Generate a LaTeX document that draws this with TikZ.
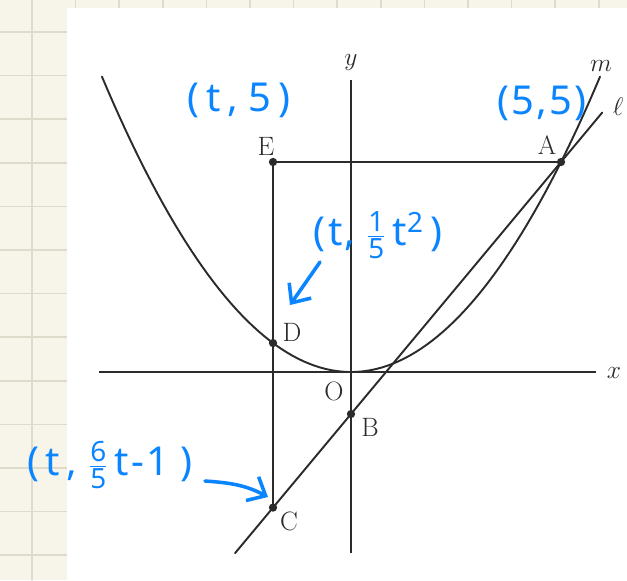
\documentclass[tikz,border=0pt]{standalone}
\usepackage{amsmath}
\usepackage{fontspec}
\newfontfamily\handfont[LetterSpace=6]{Noto Sans}
\usetikzlibrary{arrows.meta, calc}
\definecolor{paper}{HTML}{F7F4E9}
\definecolor{gridline}{HTML}{DFDBCC}
\definecolor{penblue}{HTML}{0A84FF}
\definecolor{inkgray}{HTML}{2B2B2B}
\tikzset{
  ink/.style={line width=1.3pt, draw=inkgray},
  pt/.style={circle, fill=inkgray, inner sep=0pt, minimum size=5.6pt},
  lbl/.style={font=\fontsize{18}{20}\selectfont, text=inkgray, inner sep=0pt},
  pen/.style={text=penblue, font=\handfont\fontsize{27}{29}\selectfont, inner sep=0pt},
  penline/.style={draw=penblue, line width=2.4pt, line cap=round, line join=round,
    -{Straight Barb[length=3.6mm, width=6.4mm, line width=2.4pt]}},
}

\begin{document}
\begin{tikzpicture}[line join=round, line cap=round]
      \useasboundingbox (-8.357,-4.952) rectangle (6.571,8.857);
      % notebook paper
      \fill[paper] (-8.357,-4.952) rectangle (6.571,8.857);
      \foreach \k in {0,...,14}
        \draw[gridline, line width=1pt] ({-7.595+1.038*\k},-4.952) -- ++(0,13.809);
      \foreach \k in {0,...,13}
        \draw[gridline, line width=1pt] (-8.357,{8.095-1.038*\k}) -- ++(14.928,0);
      \fill[white] (-6.762,-5.1) rectangle (6.7,8.667);

      % axes
      \coordinate (O) at (0,0);
      \coordinate (xl) at (-6,0);
      \coordinate (xr) at (5.83,0);
      \coordinate (yb) at (0,-4.31);
      \coordinate (yt) at (0,6.95);
      \draw[ink, line cap=butt] (xl) -- (xr);
      \draw[ink, line cap=butt] (yb) -- (yt);
      \node[lbl] (xlab) at (6.262,-0.024) {\(x\)};
      \node[lbl] (ylab) at (0,7.381) {\(y\)};

      % points
      \coordinate (A) at (5,5);
      \coordinate (B) at (0,-1);
      \coordinate (E) at (-1.857,5);
      \coordinate (D) at (-1.857,0.690);
      \coordinate (C) at (-1.857,-3.228);
      \coordinate (lbot) at (-2.76,-4.312);
      \coordinate (ltop) at (5.98,6.176);

      % parabola m and line l
      \draw[ink] plot[domain=-5.93:5.93, samples=90] (\x,{\x*\x/5});
      \draw[ink] (lbot) -- (ltop);
      \draw[ink] (E) -- (A);
      \draw[ink] (E) -- (C);

      \foreach \p in {A,B,C,D,E}
        \node[pt] at (\p) {};

      \node[lbl] (Alab) at (4.667,5.405) {A};
      \node[lbl] (Blab) at (0.452,-1.31) {B};
      \node[lbl] (Clab) at (-1.476,-3.548) {C};
      \node[lbl] (Dlab) at (-1.405,0.952) {D};
      \node[lbl] (Elab) at (-2.024,5.381) {E};
      \node[lbl] (Olab) at (-0.405,-0.452) {O};
      \node[lbl] (mlab) at (5.952,7.286) {\(m\)};
      \node[lbl] (llab) at (6.357,6.31) {\(\ell\)};

      % handwritten notes
      \node[pen] (noteE) at (-2.667,6.476) {(\,t\,,\;5\,)};
      \node[pen] (noteA) at (4.548,6.405) {(5,5)};
      \node[pen] (noteD) at (0.643,3.262) {(t,\;$\frac{\text{1}}{\text{5}}$\,t\textsuperscript{2}\,)};
      \node[pen] (noteC) at (-5.738,-2.214) {(\,t\,,\;$\frac{\text{6}}{\text{5}}$\,t-1\;)};
      \coordinate (tipC) at (-1.976,-2.976);
      \coordinate (tipD) at (-1.452,1.595);
      \draw[penline] (-3.476,-2.595) to[out=-4, in=152] (tipC);
      \draw[penline] (-0.738,2.619) -- (tipD);
\end{tikzpicture}
\end{document}
